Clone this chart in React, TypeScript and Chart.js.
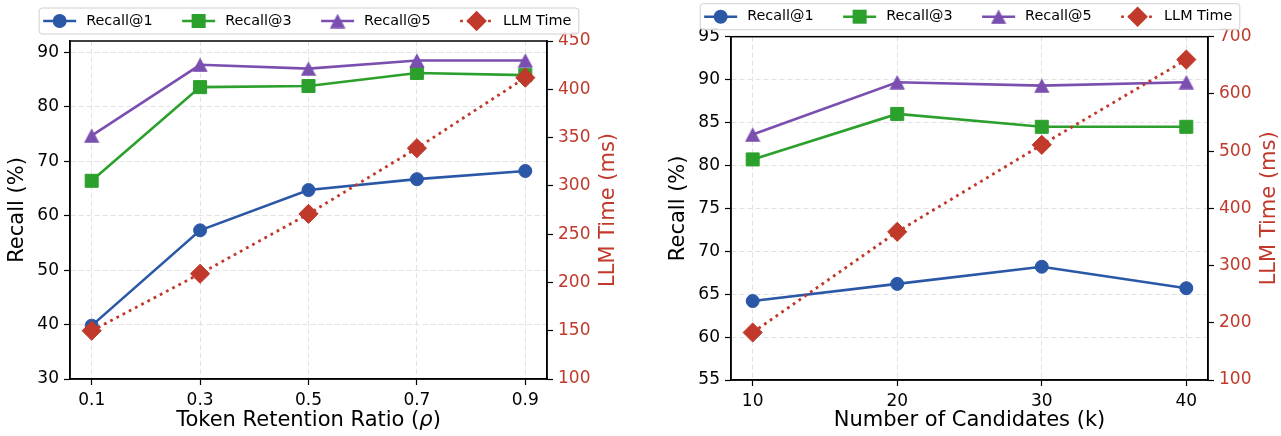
import React, { useEffect, useRef } from 'react';
import { Chart, registerables } from 'chart.js';

Chart.register(...registerables);

const FONT = '"DejaVu Sans", sans-serif';

// ---------- Left panel data: Token Retention Ratio ----------
const ratioValues = [0.1, 0.3, 0.5, 0.7, 0.9];
const ratioTickLabels = ['0.1', '0.3', '0.5', '0.7', '0.9'];
const ratioRecall1 = [39.8, 57.3, 64.7, 66.7, 68.2];
const ratioRecall3 = [66.4, 83.6, 83.8, 86.2, 85.8];
const ratioRecall5 = [74.7, 87.7, 87.0, 88.5, 88.5];
const ratioLlmTime = [150, 209, 271, 339, 412];
const ratioRecallTicks = [30, 40, 50, 60, 70, 80, 90];
const ratioTimeTicks = [100, 150, 200, 250, 300, 350, 400, 450];

// ---------- Right panel data: Number of Candidates ----------
const candValues = [10, 20, 30, 40];
const candTickLabels = ['10', '20', '30', '40'];
const candRecall1 = [64.2, 66.2, 68.2, 65.7];
const candRecall3 = [80.7, 86.0, 84.5, 84.5];
const candRecall5 = [83.6, 89.7, 89.3, 89.7];
const candLlmTime = [183, 359, 511, 660];
const candRecallTicks = [55, 60, 65, 70, 75, 80, 85, 90, 95];
const candTimeTicks = [100, 200, 300, 400, 500, 600, 700];

const seriesLabels = ['Recall@1', 'Recall@3', 'Recall@5', 'LLM Time'];

const BLUE = '#2B57A7';
const GREEN = '#2CA02C';
const PURPLE = '#7B4FAF';
const RED = '#C0392B';
const GRID = '#e2e2e2';
const H = 436;

type Area = { left: number; right: number; top: number; bottom: number };
type Spec = {
  offsetX: number;
  width: number;
  area: Area;
  xs: number[];
  xLabels: string[];
  xMin: number;
  xMax: number;
  r1: number[];
  r3: number[];
  r5: number[];
  llm: number[];
  recallTicks: number[];
  recallMin: number;
  recallMax: number;
  timeTicks: number[];
  timeMin: number;
  timeMax: number;
  xTitle: string[];
  leftTitleOffset: number;
  rightTitleOffset: number;
};

function makeTriangle(color: string) {
  const c = document.createElement('canvas');
  c.width = 16;
  c.height = 15;
  const g = c.getContext('2d')!;
  g.fillStyle = color;
  g.beginPath();
  g.moveTo(8, 0.3);
  g.lineTo(15.7, 14.7);
  g.lineTo(0.3, 14.7);
  g.closePath();
  g.fill();
  return c;
}

function drawMarker(ctx: CanvasRenderingContext2D, kind: string, x: number, y: number, color: string, tri: HTMLCanvasElement) {
  ctx.save();
  ctx.fillStyle = color;
  ctx.beginPath();
  if (kind === 'circle') {
    ctx.arc(x, y, 7, 0, Math.PI * 2);
    ctx.fill();
  } else if (kind === 'square') {
    ctx.fillRect(x - 7, y - 7, 14, 14);
  } else if (kind === 'diamond') {
    const r = 10.3;
    ctx.moveTo(x, y - r);
    ctx.lineTo(x + r, y);
    ctx.lineTo(x, y + r);
    ctx.lineTo(x - r, y);
    ctx.closePath();
    ctx.fill();
  } else {
    ctx.drawImage(tri, x - tri.width / 2, y - tri.height / 2);
  }
  ctx.restore();
}

function buildConfig(spec: Spec): any {
  const tri = makeTriangle(PURPLE);
  const toPts = (ys: number[]) => spec.xs.map((x, i) => ({ x, y: ys[i] }));
  const a = spec.area;
  const tickFont = { family: FONT, size: 17 };

  const decor = {
    id: 'decor',
    afterDatasetsDraw(chart: any) {
      const ctx = chart.ctx as CanvasRenderingContext2D;
      const ca = chart.chartArea;
      ctx.save();
      ctx.strokeStyle = '#000';
      ctx.lineWidth = 1.5;
      ctx.strokeRect(ca.left, ca.top, ca.right - ca.left, ca.bottom - ca.top);
      ctx.restore();
    },
    afterDraw(chart: any) {
      const ctx = chart.ctx as CanvasRenderingContext2D;
      const ca = chart.chartArea;
      const midY = (ca.top + ca.bottom) / 2;
      const midX = (ca.left + ca.right) / 2;
      ctx.save();
      ctx.font = `21px ${FONT}`;
      ctx.textAlign = 'center';
      ctx.textBaseline = 'middle';
      // left title
      ctx.save();
      ctx.translate(ca.left - spec.leftTitleOffset, midY);
      ctx.rotate(-Math.PI / 2);
      ctx.fillStyle = '#000';
      ctx.fillText('Recall (%)', 0, 0);
      ctx.restore();
      // right title
      ctx.save();
      ctx.translate(ca.right + spec.rightTitleOffset, midY);
      ctx.rotate(-Math.PI / 2);
      ctx.fillStyle = RED;
      ctx.fillText('LLM Time (ms)', 0, 0);
      ctx.restore();
      // x title (pieces: normal, italic, normal)
      ctx.fillStyle = '#000';
      ctx.textAlign = 'left';
      const fonts = [`21px ${FONT}`, `italic 21px ${FONT}`, `21px ${FONT}`];
      const widths = spec.xTitle.map((t, i) => {
        ctx.font = fonts[i];
        return ctx.measureText(t).width;
      });
      const total = widths.reduce((s, w) => s + w, 0);
      let cx = midX - total / 2;
      spec.xTitle.forEach((t, i) => {
        ctx.font = fonts[i];
        ctx.fillText(t, cx, 421);
        cx += widths[i];
      });

      // legend
      ctx.font = `14.4px ${FONT}`;
      const colors = [BLUE, GREEN, PURPLE, RED];
      const kinds = ['circle', 'square', 'triangle', 'diamond'];
      const tw = seriesLabels.map((l) => ctx.measureText(l).width);
      const handle = 33;
      const gap = 10;
      const colSp = 29.5;
      const padL = 4.5;
      const padR = 7;
      const W = padL + padR + tw.reduce((s, w) => s + w + handle + gap, 0) + colSp * (seriesLabels.length - 1);
      const boxH = 26;
      const boxTop = ca.top - 33.5;
      const boxLeft = midX - W / 2;
      ctx.beginPath();
      (ctx as any).roundRect(boxLeft + 0.5, boxTop + 0.5, W, boxH, 3);
      ctx.fillStyle = 'rgba(255,255,255,0.9)';
      ctx.fill();
      ctx.strokeStyle = '#d0d0d0';
      ctx.lineWidth = 1;
      ctx.stroke();
      const cy = boxTop + boxH / 2 + 0.5;
      let x = boxLeft + padL;
      seriesLabels.forEach((lab, i) => {
        ctx.save();
        ctx.strokeStyle = colors[i];
        ctx.lineWidth = 2.6;
        if (i === 3) ctx.setLineDash([2.8, 4.2]);
        ctx.beginPath();
        ctx.moveTo(x, cy);
        ctx.lineTo(x + handle, cy);
        ctx.stroke();
        ctx.restore();
        drawMarker(ctx, kinds[i], x + handle / 2, cy, colors[i], tri);
        ctx.fillStyle = '#000';
        ctx.textAlign = 'left';
        ctx.textBaseline = 'middle';
        ctx.fillText(lab, x + handle + gap, cy);
        x += handle + gap + tw[i] + colSp;
      });
      ctx.restore();
    },
  };

  const recallDs = (label: string, ys: number[], color: string, style: any, radius: number, order: number) => ({
    label,
    data: toPts(ys),
    borderColor: color,
    backgroundColor: color,
    pointBackgroundColor: color,
    pointBorderColor: color,
    pointBorderWidth: 1,
    borderWidth: 2.6,
    pointStyle: style,
    pointRadius: radius,
    pointHoverRadius: radius,
    yAxisID: 'y',
    order,
    clip: false,
  });

  return {
    type: 'line',
    data: {
      datasets: [
        recallDs(seriesLabels[0], spec.r1, BLUE, 'circle', 6.5, 4),
        recallDs(seriesLabels[1], spec.r3, GREEN, 'rect', 9.2, 3),
        recallDs(seriesLabels[2], spec.r5, PURPLE, tri, 8, 2),
        {
          label: seriesLabels[3],
          data: toPts(spec.llm),
          borderColor: RED,
          backgroundColor: RED,
          pointBackgroundColor: RED,
          pointBorderColor: RED,
          pointBorderWidth: 1,
          borderWidth: 2.8,
          borderDash: [2.8, 4.2],
          pointStyle: 'rectRot',
          pointRadius: 9.6,
          pointHoverRadius: 9.6,
          yAxisID: 'y1',
          order: 1,
          clip: false,
        },
      ],
    },
    options: {
      responsive: false,
      animation: false,
      devicePixelRatio: 1,
      layout: { padding: { top: a.top, left: 0, right: 0, bottom: 0 } },
      plugins: { legend: { display: false }, tooltip: { enabled: false } },
      events: [],
      scales: {
        x: {
          type: 'linear',
          min: spec.xMin,
          max: spec.xMax,
          afterBuildTicks: (s: any) => {
            s.ticks = spec.xs.map((v) => ({ value: v }));
          },
          afterFit: (s: any) => {
            s.height = H - a.bottom;
            s.paddingLeft = 0;
            s.paddingRight = 0;
          },
          ticks: {
            callback: (v: number) => spec.xLabels[spec.xs.indexOf(v)],
            font: tickFont,
            color: '#000',
            padding: 5,
            maxRotation: 0,
            autoSkip: false,
          },
          grid: { color: GRID, lineWidth: 1, tickLength: 6, tickColor: '#000', tickWidth: 1.2 },
          border: { display: true, color: '#000', width: 1.5, dash: [5, 3] },
        },
        y: {
          type: 'linear',
          position: 'left',
          min: spec.recallMin,
          max: spec.recallMax,
          afterBuildTicks: (s: any) => {
            s.ticks = spec.recallTicks.map((v) => ({ value: v }));
          },
          afterFit: (s: any) => {
            s.width = a.left;
            s.paddingTop = 0;
            s.paddingBottom = 0;
          },
          ticks: { font: tickFont, color: '#000', padding: 5, callback: (v: number) => String(v) },
          grid: { color: GRID, lineWidth: 1, tickLength: 6, tickColor: '#000', tickWidth: 1.2 },
          border: { display: true, color: '#000', width: 1.5, dash: [5, 3] },
        },
        y1: {
          type: 'linear',
          position: 'right',
          min: spec.timeMin,
          max: spec.timeMax,
          afterBuildTicks: (s: any) => {
            s.ticks = spec.timeTicks.map((v) => ({ value: v }));
          },
          afterFit: (s: any) => {
            s.width = spec.width - a.right;
            s.paddingTop = 0;
            s.paddingBottom = 0;
          },
          ticks: { font: tickFont, color: RED, padding: 5, callback: (v: number) => String(v) },
          grid: { drawOnChartArea: false, tickLength: 6, tickColor: '#000', tickWidth: 1.2 },
          border: { display: true, color: '#000', width: 1.5 },
        },
      },
    },
    plugins: [decor],
  };
}

const leftSpec: Spec = {
  offsetX: 0,
  width: 640,
  area: { left: 70, right: 547, top: 41, bottom: 379 },
  xs: ratioValues,
  xLabels: ratioTickLabels,
  xMin: 0.06,
  xMax: 0.94,
  r1: ratioRecall1,
  r3: ratioRecall3,
  r5: ratioRecall5,
  llm: ratioLlmTime,
  recallTicks: ratioRecallTicks,
  recallMin: 30,
  recallMax: 92.07,
  timeTicks: ratioTimeTicks,
  timeMin: 100,
  timeMax: 450,
  xTitle: ['Token Retention Ratio (', 'ρ', ')'],
  leftTitleOffset: 52.5,
  rightTitleOffset: 61.5,
};

const rightSpec: Spec = {
  offsetX: 640,
  width: 641,
  area: { left: 91, right: 568, top: 36.7, bottom: 380 },
  xs: candValues,
  xLabels: candTickLabels,
  xMin: 8.5,
  xMax: 41.5,
  r1: candRecall1,
  r3: candRecall3,
  r5: candRecall5,
  llm: candLlmTime,
  recallTicks: candRecallTicks,
  recallMin: 55,
  recallMax: 95,
  timeTicks: candTimeTicks,
  timeMin: 100,
  timeMax: 700,
  xTitle: ['Number of Candidates (k)', '', ''],
  leftTitleOffset: 52.5,
  rightTitleOffset: 62,
};

function Panel({ spec }: { spec: Spec }) {
  const ref = useRef<HTMLCanvasElement>(null);
  useEffect(() => {
    const chart = new Chart(ref.current!, buildConfig(spec));
    return () => chart.destroy();
  }, []);
  return (
    <canvas
      ref={ref}
      width={spec.width}
      height={H}
      style={{ position: 'absolute', left: spec.offsetX, top: 0, width: spec.width, height: H, display: 'block' }}
    />
  );
}

export default function App() {
  return (
    <div style={{ position: 'fixed', left: 0, top: 0, width: 1281, height: H, background: '#fff', overflow: 'hidden' }}>
      <Panel spec={leftSpec} />
      <Panel spec={rightSpec} />
    </div>
  );
}
